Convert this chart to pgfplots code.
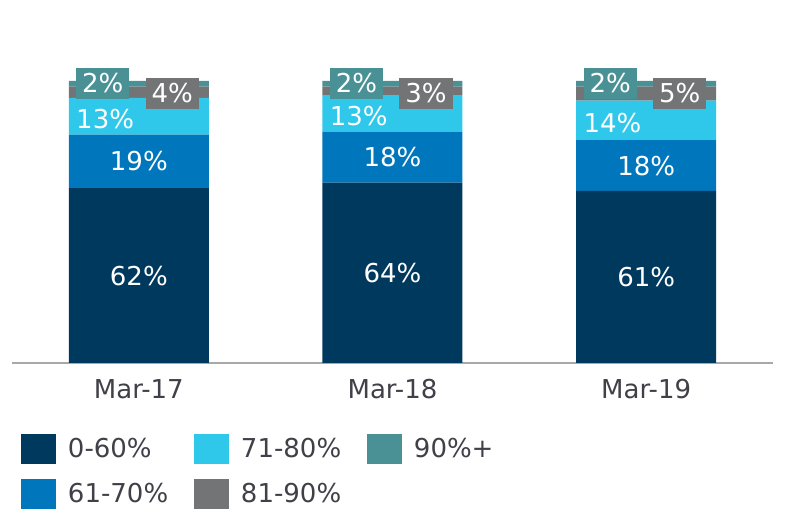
\documentclass[border=0pt]{standalone}
\usepackage{pgfplots}
\pgfplotsset{compat=1.18}
\usepackage{pgfplotstable}
\usepackage{fontspec}
\setmainfont{DejaVu Sans}
\definecolor{cA}{HTML}{00395E}
\definecolor{cB}{HTML}{0077BC}
\definecolor{cC}{HTML}{2FC8EA}
\definecolor{cD}{HTML}{737476}
\definecolor{cE}{HTML}{4A9195}
\definecolor{txt}{HTML}{404048}
\definecolor{basel}{HTML}{A8A8A8}
\newcommand{\lblfont}{\fontsize{13}{15}\selectfont}

\pgfplotstableread{
x y
0 62
1 64
2 61
}\tA
\pgfplotstableread{
x y
0 19
1 18
2 18
}\tB
\pgfplotstableread{
x y
0 13
1 13
2 14
}\tC
\pgfplotstableread{
x y
0 4
1 3
2 5
}\tD
\pgfplotstableread{
x y
0 2
1 2
2 2
}\tE

\pgfplotsset{
  geom/.style={
    at={(6pt,79.5pt)}, anchor=south west,
    scale only axis, width=380.5pt, height=141pt,
    xmin=-0.5, xmax=2.5, ymin=0, ymax=100,
    /pgf/number format/assume math mode=true,
  },
}

\begin{document}
\begin{tikzpicture}
\path[use as bounding box] (0,0) rectangle (400pt,261pt);
\begin{axis}[
  geom,
  ybar stacked, bar width=70pt,
  axis y line=none, axis x line=bottom,
  x axis line style={-, draw=basel, line width=1pt},
  xtick={0,1,2}, xticklabels={Mar-17,Mar-18,Mar-19},
  major tick length=0pt, xtick style={draw=none},
  xticklabel style={anchor=base, yshift=-18pt, font=\lblfont, text=txt},
  midlabel/.style={
    nodes near coords={\pgfmathprintnumber{\pgfplotspointmeta}\%},
    point meta=\thisrow{y},
    every node near coord/.append style={anchor=center, text=white, font=\lblfont}},
  mylegend/.style={legend image code/.code={
      \path[##1,draw=none] (0pt,-7.5pt) rectangle (17.5pt,7.5pt);
      \path[draw=none,fill=none] (17.5pt,0) -- (23.5pt,0);}},
  legend columns=3, legend cell align=left,
  legend style={at={(0.0118,-0.2518)}, anchor=north west, draw=none, fill=none,
    inner sep=0pt, outer sep=0pt, row sep=7.5pt, column sep=0pt,
    nodes={inner sep=0pt, text=txt, font=\lblfont}},
]
\addplot[fill=cA, draw=none, forget plot, midlabel] table[x=x,y=y]{\tA};
\addplot[fill=cB, draw=none, forget plot, midlabel] table[x=x,y=y]{\tB};
\addplot[fill=cC, draw=none, forget plot, midlabel,
  every node near coord/.append style={anchor=west, inner sep=0pt, xshift=-31.5pt, yshift=-1.5pt}] table[x=x,y=y]{\tC};
\addplot[fill=cD, draw=none, forget plot] table[x=x,y=y]{\tD};
\addplot[fill=cE, draw=none, forget plot] table[x=x,y=y]{\tE};
\addlegendimage{mylegend, fill=cA}\addlegendentry{\makebox[63pt][l]{0-60\%}}
\addlegendimage{mylegend, fill=cC}\addlegendentry{\makebox[63pt][l]{71-80\%}}
\addlegendimage{mylegend, fill=cE}\addlegendentry{\makebox[63pt][l]{90\%+}}
\addlegendimage{mylegend, fill=cB}\addlegendentry{\makebox[63pt][l]{61-70\%}}
\addlegendimage{mylegend, fill=cD}\addlegendentry{\makebox[63pt][l]{81-90\%}}
\end{axis}
% overlay axis for the boxed labels of the two thin top segments
\begin{axis}[geom, hide axis, clip=false]
\addplot[draw=none, point meta=explicit,
  nodes near coords={\pgfmathprintnumber{\pgfplotspointmeta}\%},
  every node near coord/.append style={anchor=center, fill=cD, text=white, font=\lblfont,
    inner xsep=3pt, inner ysep=3pt, xshift=16.75pt, yshift=-6.25pt}]
  table[x=x, y expr=100, meta=y]{\tD};
\addplot[draw=none, point meta=explicit,
  nodes near coords={\pgfmathprintnumber{\pgfplotspointmeta}\%},
  every node near coord/.append style={anchor=center, fill=cE, text=white, font=\lblfont,
    inner xsep=3pt, inner ysep=3pt, xshift=-18pt, yshift=-1.25pt}]
  table[x=x, y expr=100, meta=y]{\tE};
\end{axis}
\end{tikzpicture}
\end{document}
